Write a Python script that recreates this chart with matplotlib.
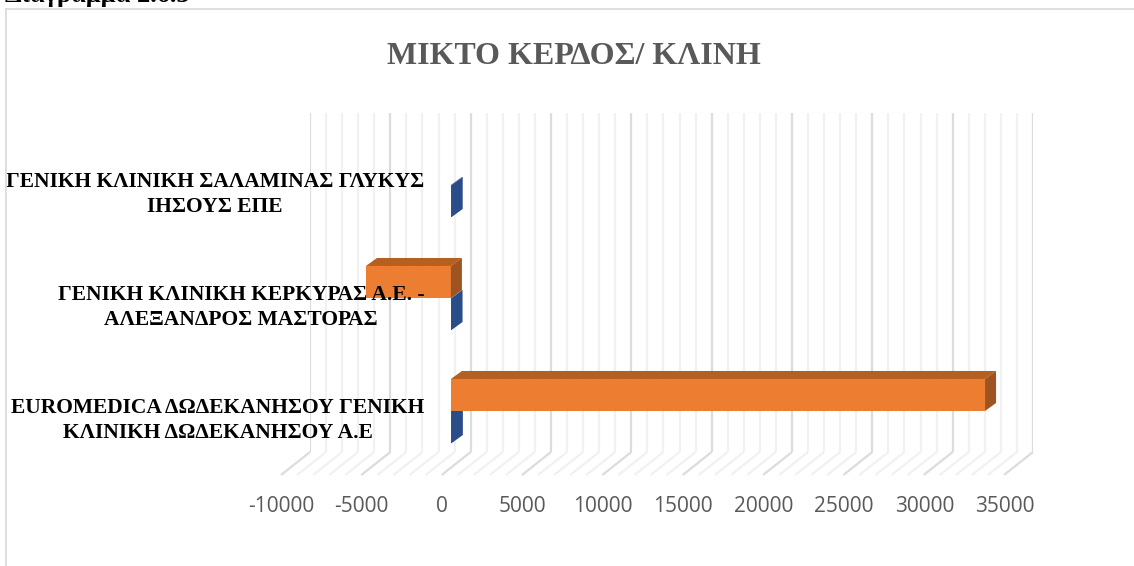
import matplotlib
matplotlib.use("Agg")
import matplotlib.pyplot as plt
import numpy as np
from matplotlib.lines import Line2D
from matplotlib.patches import Polygon

W, H = 1134, 566

categories = [
    "EUROMEDICA ΔΩΔΕΚΑΝΗΣΟΥ ΓΕΝΙΚΗ\nΚΛΙΝΙΚΗ ΔΩΔΕΚΑΝΗΣΟΥ Α.Ε",
    "ΓΕΝΙΚΗ ΚΛΙΝΙΚΗ ΚΕΡΚΥΡΑΣ Α.Ε. -\nΑΛΕΞΑΝΔΡΟΣ ΜΑΣΤΟΡΑΣ",
    "ΓΕΝΙΚΗ ΚΛΙΝΙΚΗ ΣΑΛΑΜΙΝΑΣ ΓΛΥΚΥΣ\nΙΗΣΟΥΣ ΕΠΕ",
]
blue_values = [60, 40, 50]
orange_values = [33200, -5280, np.nan]

major_ticks = list(range(-10000, 35001, 5000))
minor_ticks = [v for v in range(-10000, 35001, 1000) if v % 5000 != 0]

XLIM = (-10000, 35000)
YLIM = (-0.363, 2.637)
BAR_H = 32 / 113
DEPTH_X = 11 / 16.07 * 1000
DEPTH_Y = 8 / 113
FLOOR_X = 29 / 16.07 * 1000
FLOOR_Y = 23 / 113

plt.rcParams["font.family"] = ["Liberation Serif", "DejaVu Serif"]

fig = plt.figure(figsize=(W / 100, H / 100), dpi=100, facecolor="white")


def make_axes(x0, x1, ytop, ybot):
    ax = fig.add_axes([x0 / W, 1 - ybot / H, (x1 - x0) / W, (ybot - ytop) / H])
    ax.set_xlim(*XLIM)
    ax.set_ylim(*YLIM)
    ax.patch.set_visible(False)
    for s in ax.spines.values():
        s.set_visible(False)
    ax.set_xticks([])
    ax.set_yticks([])
    return ax


def draw_bar(ax, y, value, front, top, side):
    if np.isnan(value):
        return
    ax.barh(y, value, height=BAR_H, align="edge", color=front, linewidth=0)
    left, right = min(0, value), max(0, value)
    ax.add_patch(Polygon(
        [(left, y + BAR_H), (right, y + BAR_H),
         (right + DEPTH_X, y + BAR_H + DEPTH_Y), (left + DEPTH_X, y + BAR_H + DEPTH_Y)],
        closed=True, color=top, linewidth=0))
    ax.add_patch(Polygon(
        [(right, y), (right, y + BAR_H),
         (right + DEPTH_X, y + BAR_H + DEPTH_Y), (right + DEPTH_X, y + DEPTH_Y)],
        closed=True, color=side, linewidth=0))


# back wall and floor
ax_wall = make_axes(310, 1033, 113, 452)
for v, color, lw in [(t, "#f1f1f1", 1.6) for t in minor_ticks] + [(t, "#dcdcdc", 1.6) for t in major_ticks]:
    ax_wall.plot([v, v], YLIM, color=color, lw=lw, solid_capstyle="butt")
    ax_wall.plot([v, v - FLOOR_X], [YLIM[0], YLIM[0] - FLOOR_Y], color=color, lw=lw,
                 solid_capstyle="butt", clip_on=False)
ax_wall.set_xlim(*XLIM)
ax_wall.set_ylim(*YLIM)

# x tick labels sit under the front edge of the floor
ax_floor = make_axes(281, 1005, 113, 475)
ax_floor.set_xticks(major_ticks)
ax_floor.set_xticklabels([str(t) for t in major_ticks], family="Open Sans", fontsize=15, color="#595959")
ax_floor.tick_params(axis="x", length=0, pad=15)

# bars
ax_bars = make_axes(290, 1014, 113, 452)
for i in range(len(categories)):
    draw_bar(ax_bars, i - BAR_H, blue_values[i], "#2F5597", "#2F5597", "#2A4C88")
for i in range(len(categories)):
    draw_bar(ax_bars, i, orange_values[i], "#ED7D31", "#B5601F", "#9E5320")

# category labels, on top of the bars
ax_cat = make_axes(427, 1014, 118, 457)
ax_cat.set_yticks(range(len(categories)))
ax_cat.set_yticklabels(categories, fontsize=15.5, fontweight="bold", color="black",
                       multialignment="center", linespacing=1.27)
ax_cat.tick_params(axis="y", length=0, pad=2)

fig.text(574 / W, 1 - 56 / H, "ΜΙΚΤΟ ΚΕΡΔΟΣ/ ΚΛΙΝΗ", ha="center", va="center",
         fontsize=23, fontweight="bold", color="#595959")
fig.text(5 / W, 1 - 2 / H, "Διάγραμμα 2.6.3", ha="left", va="baseline",
         fontsize=19, fontweight="bold", color="black")

# chart frame, only top and left are in the crop
fig.add_artist(Line2D([6 / W, 1], [1 - 8.5 / H, 1 - 8.5 / H], color="#d9d9d9", lw=1.2))
fig.add_artist(Line2D([6 / W, 6 / W], [1 - 8.5 / H, 0], color="#d9d9d9", lw=1.2))

fig.savefig("out.png", dpi=100)
